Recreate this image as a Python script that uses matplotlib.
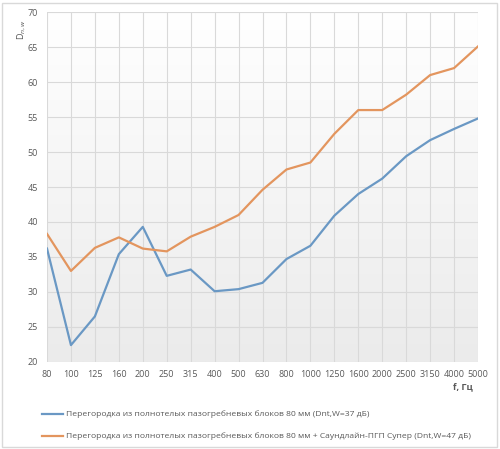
import matplotlib
matplotlib.use("Agg")
import matplotlib.pyplot as plt
import numpy as np
from matplotlib.patches import Rectangle

freqs = ["80", "100", "125", "160", "200", "250", "315", "400", "500", "630",
         "800", "1000", "1250", "1600", "2000", "2500", "3150", "4000", "5000"]
blue_vals = [36.2, 22.4, 26.5, 35.4, 39.3, 32.3, 33.2, 30.1, 30.4, 31.3,
             34.7, 36.6, 40.9, 44.0, 46.2, 49.4, 51.7, 53.3, 54.8]
orange_vals = [38.3, 33.0, 36.3, 37.8, 36.2, 35.8, 37.9, 39.3, 41.0, 44.6,
               47.5, 48.5, 52.6, 56.0, 56.0, 58.2, 61.0, 62.0, 65.1]
yticks = [20, 25, 30, 35, 40, 45, 50, 55, 60, 65, 70]
label_blue = "Перегородка из полнотелых пазогребневых блоков 80 мм (Dnt,W=37 дБ)"
label_orange = "Перегородка из полнотелых пазогребневых блоков 80 мм + Саундлайн-ПГП Супер (Dnt,W=47 дБ)"

plt.rcParams['font.family'] = ['Open Sans', 'DejaVu Sans']
fig = plt.figure(figsize=(5.0, 4.49), dpi=100)
ax = fig.add_axes([0.094, 0.194, 0.862, 0.779])

x = np.arange(len(freqs))
# gradient background
grad = np.linspace(1.0, 0.0, 256).reshape(-1, 1)
ax.imshow(grad, extent=[0, 1, 0, 1], transform=ax.transAxes, aspect='auto',
          cmap=matplotlib.colors.LinearSegmentedColormap.from_list('g', ['#ebebeb', '#ffffff']),
          zorder=0, interpolation='bilinear')

ax.plot(x, blue_vals, color='#6a98c4', lw=1.6, zorder=3)
ax.plot(x, orange_vals, color='#e3955e', lw=1.6, zorder=3)

ax.set_xlim(0, len(freqs) - 1)
ax.set_ylim(20, 70)
ax.set_xticks(x)
ax.set_xticklabels(freqs)
ax.set_yticks(yticks)
ax.grid(True, color='#d9d9d9', lw=0.8, zorder=1)
ax.set_axisbelow(True)
for s in ax.spines.values():
    s.set_visible(False)
ax.tick_params(length=0, labelsize=6.5, colors='#595959', pad=6)
ax.tick_params(axis='y', pad=6.5)

fig.text(0.043, 0.935, "D$_{n,w}$", rotation=90, fontsize=6.5, color='#595959',
         ha='center', va='center')
fig.text(0.925, 0.138, "f, Гц", fontsize=6.5, color='#595959', fontweight='bold',
         ha='center', va='center')

# legend
for yy, col, lab in [(0.078, '#6a98c4', label_blue), (0.029, '#e3955e', label_orange)]:
    fig.add_artist(plt.Line2D([0.084, 0.126], [yy, yy], color=col, lw=1.6))
    fig.text(0.132, yy, lab, fontsize=6.1, color='#595959', va='center', ha='left')

fig.add_artist(Rectangle((0.004, 0.004), 0.99, 0.99, transform=fig.transFigure,
                         fill=False, edgecolor='#d9d9d9', lw=1))

fig.savefig("out.png", dpi=100)
